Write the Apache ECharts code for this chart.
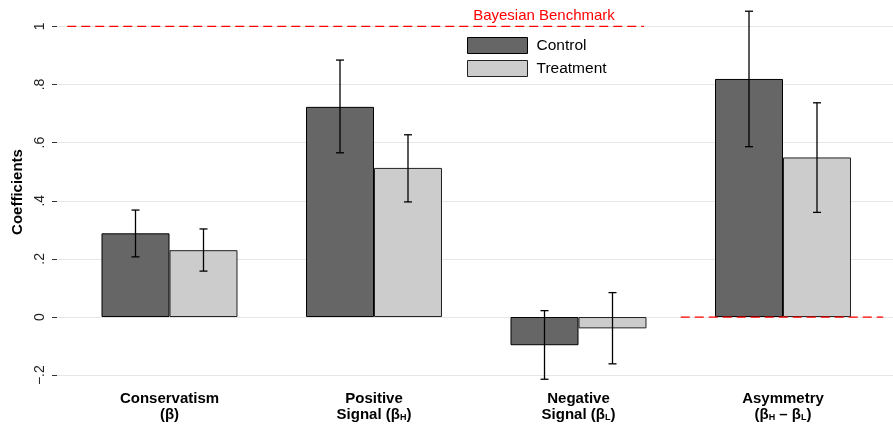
<!DOCTYPE html>
<html>
<head>
<meta charset="utf-8">
<script src="https://cdn.jsdelivr.net/npm/echarts@6/dist/echarts.min.js"></script>
<style>
  html, body { margin: 0; padding: 0; background: #fff; }
  #chart { width: 893px; height: 424px; }
</style>
</head>
<body>
<div id="chart"></div>
<script>
// Coefficient estimates with confidence intervals, by group
const categories = [
  'Conservatism\n(β)',
  'Positive\nSignal (β{s|H})',
  'Negative\nSignal (β{s|L})',
  'Asymmetry\n(β{s|H} – β{s|L})'
];
const seriesNames = ['Control', 'Treatment'];

const controlVals = [0.288, 0.723, -0.097, 0.819];
const controlLo   = [0.207, 0.565, -0.214, 0.586];
const controlHi   = [0.368, 0.884,  0.022, 1.052];

const treatVals = [0.230, 0.513, -0.039, 0.549];
const treatLo   = [0.158, 0.396, -0.161, 0.360];
const treatHi   = [0.303, 0.627,  0.084, 0.737];

// Y tick positions and their printed labels
const yTickValues = [-0.2, 0, 0.2, 0.4, 0.6, 0.8, 1];
const yTickLabels = ['−.2', '0', '.2', '.4', '.6', '.8', '1'];

// Reference lines, in category units along x
const benchmarkLine = [[0, 1], [2.82, 1]];
const asymmetryZeroLine = [[3.0, 0], [3.99, 0]];
const benchmarkLabel = 'Bayesian Benchmark';

const FONT = '"Liberation Sans", Arial, Helvetica, sans-serif';
const Y_MIN = -0.25, Y_MAX = 1.07;
const PLOT_TOP = 6, PLOT_HEIGHT = 383.7;
const BAR_FRAC = 0.3325;

function errorData(lo, hi) {
  return lo.map((l, i) => [i, l, hi[i]]);
}

function errorBarSeries(name, lo, hi, offsetSign) {
  return {
    type: 'custom',
    name: name + ' CI',
    xAxisIndex: 1,
    yAxisIndex: 1,
    z: 10,
    silent: true,
    data: errorData(lo, hi),
    renderItem: function (params, api) {
      const band = api.size([1, 0])[0];
      const dx = offsetSign * band * BAR_FRAC / 2;
      const top = api.coord([api.value(0), api.value(2)]);
      const bot = api.coord([api.value(0), api.value(1)]);
      const x = top[0] + dx;
      const cap = 4;
      const style = { stroke: '#000', lineWidth: 1.3 };
      return {
        type: 'group',
        children: [
          { type: 'line', shape: { x1: x, y1: top[1], x2: x, y2: bot[1] }, style: style },
          { type: 'line', shape: { x1: x - cap, y1: top[1], x2: x + cap, y2: top[1] }, style: style },
          { type: 'line', shape: { x1: x - cap, y1: bot[1], x2: x + cap, y2: bot[1] }, style: style }
        ]
      };
    }
  };
}

const chart = echarts.init(document.getElementById('chart'), null, { renderer: 'canvas' });

chart.setOption({
  animation: false,
  backgroundColor: '#fff',
  textStyle: { fontFamily: FONT },
  grid: [
    { left: 57, right: 0, top: PLOT_TOP, height: PLOT_HEIGHT },
    { left: 67.25, right: 7.75, top: PLOT_TOP, height: PLOT_HEIGHT }
  ],
  legend: {
    data: seriesNames,
    orient: 'vertical',
    left: 467,
    top: 37,
    padding: 0,
    icon: 'rect',
    itemWidth: 60,
    itemHeight: 16,
    itemGap: 6,
    itemStyle: { borderWidth: 1 },
    textStyle: { fontFamily: FONT, fontSize: 15.5, color: '#000', padding: [0, 0, 0, 4] }
  },
  xAxis: [
    { gridIndex: 0, type: 'value', min: 0, max: 1, show: false },
    {
      gridIndex: 1,
      type: 'category',
      data: categories,
      axisLine: { show: false },
      axisTick: { show: false },
      splitLine: { show: false },
      axisLabel: {
        interval: 0,
        margin: 1.5,
        color: '#000',
        fontFamily: FONT,
        fontSize: 15,
        fontWeight: 'bold',
        lineHeight: 16,
        rich: {
          s: { fontFamily: FONT, fontSize: 9, fontWeight: 'bold', color: '#000', verticalAlign: 'bottom', lineHeight: 16, padding: [0, 0, 1, 0] }
        }
      }
    },
    { gridIndex: 1, type: 'value', min: 0, max: 4, show: false }
  ],
  yAxis: [
    {
      gridIndex: 0,
      type: 'value',
      min: Y_MIN,
      max: Y_MAX,
      axisLine: { show: false },
      axisTick: {
        show: true,
        length: 5,
        lineStyle: { color: '#333', width: 1 },
        customValues: yTickValues
      },
      axisLabel: {
        rotate: 90,
        margin: 10,
        color: '#222',
        fontFamily: FONT,
        fontSize: 14,
        customValues: yTickValues,
        formatter: function (v) {
          const i = yTickValues.findIndex(t => Math.abs(t - v) < 1e-9);
          return i >= 0 ? yTickLabels[i] : '';
        }
      },
      splitLine: { show: true, lineStyle: { color: '#e6e6e6', width: 1 } }
    },
    { gridIndex: 1, type: 'value', min: Y_MIN, max: Y_MAX, show: false }
  ],
  graphic: [
    {
      type: 'text',
      x: 18,
      y: 192,
      rotation: Math.PI / 2,
      style: {
        text: 'Coefficients',
        fontFamily: FONT,
        fontSize: 15,
        fontWeight: 'bold',
        fill: '#000',
        align: 'center',
        verticalAlign: 'middle'
      }
    },
    {
      type: 'text',
      x: 544,
      y: 16,
      style: {
        text: benchmarkLabel,
        fontFamily: FONT,
        fontSize: 15,
        fill: '#ff0000',
        align: 'center',
        verticalAlign: 'middle'
      }
    }
  ],
  series: [
    {
      name: 'Control',
      type: 'bar',
      xAxisIndex: 1,
      yAxisIndex: 1,
      data: controlVals,
      barWidth: (BAR_FRAC * 100) + '%',
      barGap: '0%',
      itemStyle: { color: '#666666', borderColor: '#000', borderWidth: 1 },
      silent: true
    },
    {
      name: 'Treatment',
      type: 'bar',
      xAxisIndex: 1,
      yAxisIndex: 1,
      data: treatVals,
      barWidth: (BAR_FRAC * 100) + '%',
      barGap: '0%',
      itemStyle: { color: '#cccccc', borderColor: '#222', borderWidth: 1 },
      silent: true
    },
    errorBarSeries('Control', controlLo, controlHi, -1),
    errorBarSeries('Treatment', treatLo, treatHi, 1),
    {
      name: 'Benchmark',
      type: 'line',
      xAxisIndex: 2,
      yAxisIndex: 1,
      data: benchmarkLine,
      symbol: 'none',
      silent: true,
      z: 5,
      lineStyle: { color: '#ff0000', width: 1.3, type: [9, 5] }
    },
    {
      name: 'Asymmetry zero',
      type: 'line',
      xAxisIndex: 2,
      yAxisIndex: 1,
      data: asymmetryZeroLine,
      symbol: 'none',
      silent: true,
      z: 5,
      lineStyle: { color: '#ff0000', width: 1.3, type: [9, 5] }
    }
  ]
});
</script>
</body>
</html>
